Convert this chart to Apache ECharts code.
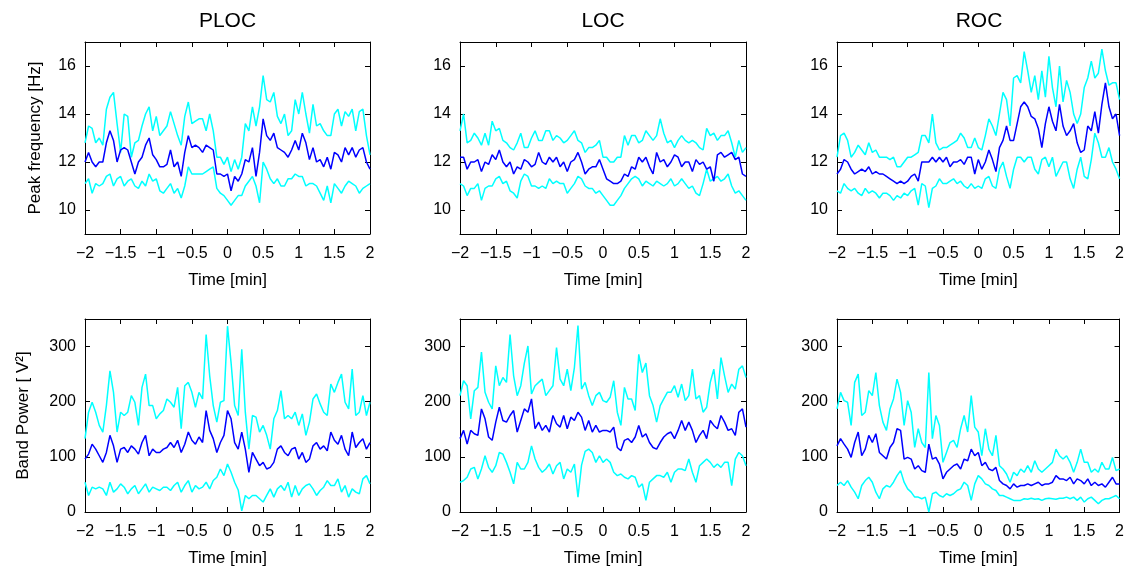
<!DOCTYPE html>
<html><head><meta charset="utf-8">
<script src="https://cdn.jsdelivr.net/npm/echarts@6/dist/echarts.min.js"></script>
<style>html,body{margin:0;padding:0;background:#fff}#c{width:1127px;height:570px}</style>
</head><body><div id="c"></div>
<script>
const time = [-2,-1.95,-1.9,-1.85,-1.8,-1.75,-1.7,-1.65,-1.6,-1.55,-1.5,-1.45,-1.4,-1.35,-1.3,-1.25,-1.2,-1.15,-1.1,-1.05,-1,-0.95,-0.9,-0.85,-0.8,-0.75,-0.7,-0.65,-0.6,-0.55,-0.5,-0.45,-0.4,-0.35,-0.3,-0.25,-0.2,-0.15,-0.1,-0.05,0,0.05,0.1,0.15,0.2,0.25,0.3,0.35,0.4,0.45,0.5,0.55,0.6,0.65,0.7,0.75,0.8,0.85,0.9,0.95,1,1.05,1.1,1.15,1.2,1.25,1.3,1.35,1.4,1.45,1.5,1.55,1.6,1.65,1.7,1.75,1.8,1.85,1.9,1.95,2];
const xTicks = [-2,-1.5,-1,-0.5,0,0.5,1,1.5,2];
const pfTicks = [10,12,14,16];
const bpTicks = [0,100,200,300];
const panelTitles = ['PLOC','LOC','ROC'];
const xName = 'Time [min]';
const pfName = 'Peak frequency [Hz]';
const bpName = 'Band Power [ V\u00B2]';

const plocPfUpper = [12.8,13.5,13.4,12.8,13.0,12.7,14.2,14.7,14.9,13.6, 12.4,14.0,13.9,12.2,12.8,12.9,13.5,14.0,14.3,13.3, 13.9,13.1,13.3,13.5,14.1,13.6,13.1,12.7,13.9,14.5, 13.6,13.7,13.8,13.8,13.3,14.0,13.3,12.2,12.2,11.9, 12.2,11.6,12.1,11.7,12.2,13.6,13.3,14.3,13.5,14.3, 15.6,14.6,14.5,14.9,13.9,13.6,14.0,13.1,13.3,14.6, 14.0,14.9,14.0,13.2,14.4,13.5,13.6,13.3,13.1,13.1, 14.0,14.2,13.5,14.1,13.9,14.2,13.3,14.1,14.2,13.1, 12.3];
const plocPfMean = [12.0,12.4,12.0,11.8,12.0,12.0,12.8,13.3,12.9,12.0, 12.5,12.6,12.5,12.0,11.5,12.0,12.2,12.7,13.0,12.3, 12.1,11.8,11.8,11.9,12.5,11.8,12.0,11.4,12.4,13.1, 12.6,12.7,12.6,12.4,12.7,12.6,12.5,11.5,11.5,11.4, 11.5,10.8,11.4,11.2,11.5,12.1,12.0,12.6,11.4,12.4, 13.8,13.1,12.9,13.2,12.6,12.5,12.4,12.2,12.5,12.9, 12.5,13.2,12.8,12.1,12.6,12.0,12.1,11.8,12.2,11.7, 12.4,12.3,12.0,12.6,12.3,12.6,12.2,12.5,12.6,12.0, 11.7];
const plocPfLower = [11.1,11.3,10.7,11.1,11.0,11.1,11.4,11.5,11.0,11.3, 11.4,11.0,11.2,11.3,11.0,10.9,11.2,11.0,11.5,11.2, 11.3,10.8,10.7,10.9,11.1,10.7,10.9,10.5,11.0,11.8, 11.5,11.5,11.5,11.5,11.6,11.7,11.8,10.9,10.7,10.6, 10.4,10.2,10.4,10.6,10.6,11.0,11.2,11.4,11.0,10.3, 12.0,11.7,11.3,11.1,11.3,11.0,11.0,11.3,11.3,11.5, 11.4,11.4,11.0,11.1,11.1,11.0,10.7,10.4,11.0,10.3, 11.1,10.9,10.7,11.0,11.2,11.1,11.0,10.7,10.9,11.0, 11.1];

const locPfUpper = [13.3,14.0,12.8,12.9,13.2,13.0,12.7,13.2,12.7,13.7, 13.3,13.4,12.9,12.8,12.6,12.5,12.8,13.2,12.6,12.6, 13.0,13.3,12.9,12.9,13.3,13.3,12.9,13.1,13.0,12.8, 12.9,13.1,13.3,12.9,12.8,12.4,12.6,12.6,12.7,12.9, 12.2,12.2,12.0,12.0,12.2,12.2,13.1,12.7,13.1,13.1, 12.8,12.9,13.3,13.1,12.9,13.1,13.8,13.2,12.8,12.9, 12.6,12.9,13.1,12.9,12.8,12.9,12.8,12.6,12.5,13.4, 13.1,13.2,12.9,13.1,13.1,13.3,12.8,12.2,12.9,12.4, 12.6];
const locPfMean = [12.2,12.2,11.7,12.0,12.0,12.1,11.6,12.0,11.9,12.3, 12.1,12.5,12.0,11.8,12.0,11.5,11.8,11.7,12.1,12.0, 11.8,11.9,12.4,12.0,11.9,12.2,12.0,12.2,11.8,12.0, 11.6,12.0,12.1,12.4,12.0,11.5,11.7,11.8,11.8,12.1, 11.7,11.3,11.2,11.1,11.1,11.2,11.5,11.4,11.8,11.7, 12.2,12.0,12.2,11.8,11.5,12.4,12.0,12.1,11.8,12.0, 12.3,12.2,11.8,12.0,12.0,11.6,12.1,11.9,12.0,11.7, 11.8,11.2,12.3,12.4,12.2,12.3,12.4,12.1,12.2,11.5, 11.4];
const locPfLower = [11.1,11.0,10.6,10.9,10.9,11.1,10.4,10.9,11.0,11.0, 11.3,11.4,11.1,11.2,10.8,10.7,10.5,11.2,11.5,11.4, 11.0,11.0,10.9,11.0,10.9,11.3,11.1,11.2,11.1,11.1, 10.7,10.9,11.1,11.4,11.3,11.0,10.9,10.9,10.7,10.8, 10.6,10.4,10.2,10.2,10.4,10.6,10.9,11.1,11.3,11.4, 11.3,11.0,11.2,11.1,11.0,11.2,11.1,11.0,11.1,11.3, 11.0,11.1,11.3,11.1,10.9,11.0,10.7,10.6,11.1,11.7, 11.2,11.3,11.4,11.2,11.3,11.5,11.0,10.7,10.8,10.6, 10.4];

const rocPfUpper = [12.2,13.1,13.2,12.9,12.2,12.4,12.7,12.5,12.3,12.8, 12.4,12.5,12.2,12.2,12.2,12.1,12.2,11.8,11.8,12.0, 12.2,12.2,12.3,12.4,13.1,13.1,12.8,14.0,12.8,12.5, 12.6,12.6,12.7,12.8,12.9,13.2,13.0,12.6,12.6,13.0, 12.6,12.5,13.1,13.8,13.5,13.1,14.0,14.9,14.6,13.5, 15.5,15.6,15.3,16.6,15.8,14.9,15.6,14.6,15.8,14.7, 16.4,15.1,14.3,16.0,14.5,15.4,14.9,14.0,13.6,14.0, 15.1,15.5,16.2,15.5,15.7,16.7,15.8,15.2,15.3,15.3, 14.6];
const rocPfMean = [11.5,11.7,12.1,12.0,11.7,11.5,11.6,11.7,11.6,11.8, 11.5,11.6,11.5,11.5,11.4,11.3,11.2,11.1,11.2,11.1, 11.2,11.4,11.5,11.2,12.0,12.0,12.0,12.2,12.0,12.2, 12.0,12.2,11.8,12.0,12.0,12.1,11.9,12.2,12.2,11.5, 12.1,11.7,12.0,12.5,12.1,11.6,12.6,12.9,13.5,12.9, 12.9,13.6,14.3,14.5,14.3,13.9,13.8,13.4,12.6,13.6, 14.3,13.7,13.3,14.4,13.5,13.1,13.3,13.6,12.8,12.4, 12.5,13.5,13.3,14.1,13.2,14.4,15.3,14.3,13.8,14.0, 13.1];
const rocPfLower = [10.8,10.7,11.1,10.9,10.8,10.9,10.7,10.6,10.9,10.7, 10.8,10.7,10.5,10.7,10.7,10.6,10.4,10.6,10.5,10.7, 10.6,10.8,10.9,10.2,11.1,11.0,10.1,10.9,11.0,11.3, 11.1,11.1,11.2,11.3,11.1,11.2,11.0,10.9,11.1,10.9, 11.0,10.9,11.3,11.4,11.0,10.9,11.7,12.0,11.4,10.9, 11.7,12.2,12.2,12.0,12.2,12.2,11.7,11.5,12.1,12.2, 11.8,12.2,11.4,11.7,12.0,12.0,11.3,10.9,11.7,12.2, 11.4,11.3,12.1,13.2,12.8,12.2,12.2,12.6,12.0,11.7, 11.3];

const plocBpUpper = [133,181,199,181,157,145,193,256,217,145, 181,175,181,211,199,157,226,250,193,193, 169,178,184,205,199,190,226,151,229,235, 217,190,217,205,322,247,193,163,199,202, 337,271,193,175,295,181,114,175,172,145, 157,139,114,169,184,220,169,175,169,181, 157,178,139,163,205,214,196,181,175,232, 217,235,250,199,187,259,175,181,211,175, 199];
const plocBpMean = [96,105,123,114,102,90,108,139,120,90, 114,117,108,120,114,105,126,139,102,114, 108,108,114,117,126,117,130,108,123,145, 130,123,136,126,184,148,133,108,126,139, 184,169,126,114,145,114,72,108,96,84, 90,78,81,90,114,120,108,102,114,117, 96,108,90,96,120,126,114,120,111,145, 130,123,139,114,102,145,117,126,133,114, 126];
const plocBpLower = [54,30,45,42,45,42,30,54,36,42, 51,45,33,42,48,33,42,51,36,45, 42,39,45,45,39,48,54,36,48,57, 36,48,42,45,54,42,57,63,78,66, 87,72,54,40,2,30,24,30,30,24, 18,30,42,27,42,48,39,54,27,48, 30,42,48,51,42,30,39,45,57,48, 48,60,36,48,27,42,36,33,60,66, 51];

const locBpUpper = [211,238,229,169,220,226,290,217,199,187, 265,229,244,235,322,247,211,229,270,301, 214,229,235,241,211,220,229,298,241,229, 259,220,262,338,223,235,211,193,211,217, 202,199,208,238,181,157,226,205,205,184, 286,253,270,211,193,163,193,205,217,217, 229,208,232,202,211,259,205,211,181,190, 235,259,205,280,247,217,232,223,259,265, 244];
const locBpMean = [133,148,123,148,142,139,187,169,136,130, 163,190,166,163,175,184,145,166,187,181, 205,151,163,148,157,145,175,160,154,175, 151,172,166,181,172,148,166,145,157,145, 148,148,145,154,117,111,130,133,126,136, 157,136,142,126,117,114,126,136,142,145, 133,148,166,148,163,148,126,139,148,133, 166,157,151,175,163,148,151,139,181,187, 154];
const locBpLower = [54,57,63,78,81,60,78,102,81,72, 84,108,105,90,72,51,90,78,78,90, 120,96,81,72,78,87,69,84,90,60, 78,72,87,27,85,110,114,108,90,102, 90,96,90,72,66,69,63,60,66,63, 45,51,21,54,60,66,66,63,72,54, 72,78,78,75,96,72,54,84,90,96, 90,81,87,81,90,90,48,96,108,102, 84];

const rocBpUpper = [187,217,202,199,157,235,250,175,181,220, 211,253,193,163,148,187,205,241,217,157, 202,181,117,151,126,117,253,133,175,157, 90,108,126,130,117,151,175,145,211,154, 145,102,151,114,102,139,84,78,69,54, 72,66,78,72,84,72,93,78,72,78, 84,90,114,102,96,102,90,72,90,114, 90,90,72,78,72,90,78,78,99,75, 78];
const rocBpMean = [120,133,123,114,99,126,145,102,114,139, 126,142,108,102,96,117,126,151,148,96, 99,96,78,84,75,72,123,96,99,87, 60,72,78,84,87,78,96,93,114,102, 108,84,90,78,75,81,57,51,48,42, 51,45,48,48,51,48,51,54,48,51, 51,54,66,60,60,57,63,51,60,57, 51,60,48,54,48,51,45,54,63,51, 51];
const rocBpLower = [48,54,48,57,45,36,24,48,57,63, 54,36,24,42,48,45,54,66,75,54, 42,36,27,27,24,27,0,33,36,30, 27,33,30,33,39,42,54,48,21,51, 66,60,51,48,42,39,30,30,27,24, 21,21,21,24,23,25,23,24,21,24, 25,24,23,25,25,27,24,27,21,27, 18,24,27,21,15,21,24,24,27,30, 24];

const panels = [
  {upper: plocPfUpper, mean: plocPfMean, lower: plocPfLower, min: 9, max: 17, ticks: pfTicks, name: pfName},
  {upper: locPfUpper,  mean: locPfMean,  lower: locPfLower,  min: 9, max: 17, ticks: pfTicks, name: ''},
  {upper: rocPfUpper,  mean: rocPfMean,  lower: rocPfLower,  min: 9, max: 17, ticks: pfTicks, name: ''},
  {upper: plocBpUpper, mean: plocBpMean, lower: plocBpLower, min: 0, max: 350, ticks: bpTicks, name: bpName},
  {upper: locBpUpper,  mean: locBpMean,  lower: locBpLower,  min: 0, max: 350, ticks: bpTicks, name: ''},
  {upper: rocBpUpper,  mean: rocBpMean,  lower: rocBpLower,  min: 0, max: 350, ticks: bpTicks, name: ''}
];
const gridPos = [[85,42,285,192],[460,42,286,192],[837,42,284,192],[85,319,285,193],[460,319,286,193],[837,319,284,193]];
const yNameGap = [41, 0, 0, 53, 0, 0];
const titleX = [227.5, 603, 979];

const FONT = '"Liberation Sans", Arial, Helvetica, sans-serif';
const CYAN = '#00ffff', BLUE = '#0000ff';
const fmt = v => (v < 0 ? '\u2212' + Math.abs(v) : String(v));
const line = {show: true, onZero: false, lineStyle: {color: '#000', width: 1}};

const grid = [], xAxis = [], yAxis = [], series = [];
panels.forEach((p, i) => {
  const g = gridPos[i];
  grid.push({left: g[0], top: g[1], width: g[2], height: g[3], show: false, containLabel: false});
  const xBase = {type: 'value', gridIndex: i, min: -2, max: 2, axisLine: line, splitLine: {show: false},
    axisTick: {inside: true, length: 5, customValues: xTicks, lineStyle: {color: '#000'}}};
  xAxis.push(Object.assign({}, xBase, {position: 'bottom',
    axisLabel: {customValues: xTicks, formatter: fmt, color: '#000', fontSize: 16, margin: 12, fontFamily: FONT},
    name: xName, nameLocation: 'middle', nameGap: 38,
    nameTextStyle: {color: '#000', fontSize: 17, fontFamily: FONT}}));
  xAxis.push(Object.assign({}, xBase, {position: 'top', axisLabel: {show: false}}));
  const yBase = {type: 'value', gridIndex: i, min: p.min, max: p.max, axisLine: line, splitLine: {show: false},
    axisTick: {inside: true, length: 5, customValues: p.ticks, lineStyle: {color: '#000'}}};
  yAxis.push(Object.assign({}, yBase, {position: 'left',
    axisLabel: {customValues: p.ticks, color: '#000', fontSize: 16, margin: 9, fontFamily: FONT},
    name: p.name, nameLocation: 'middle', nameGap: yNameGap[i],
    nameTextStyle: {color: '#000', fontSize: 17, fontFamily: FONT}}));
  yAxis.push(Object.assign({}, yBase, {position: 'right', axisLabel: {show: false}}));
  const mk = (arr, color) => ({type: 'line', xAxisIndex: 2 * i, yAxisIndex: 2 * i,
    data: time.map((t, k) => [t, arr[k]]), symbol: 'none', showSymbol: false, silent: true,
    lineStyle: {color: color, width: 1.5}, itemStyle: {color: color}, z: color === BLUE ? 3 : 2});
  series.push(mk(p.lower, CYAN), mk(p.upper, CYAN), mk(p.mean, BLUE));
});

const graphic = panelTitles.map((t, j) => ({type: 'text', x: titleX[j], y: 21,
  style: {text: t, fill: '#000', font: '21px ' + FONT, textAlign: 'center', textVerticalAlign: 'middle'}}));

const chart = echarts.init(document.getElementById('c'), null, {renderer: 'canvas'});
chart.setOption({animation: false, backgroundColor: '#fff', grid, xAxis, yAxis, series, graphic});
</script></body></html>
